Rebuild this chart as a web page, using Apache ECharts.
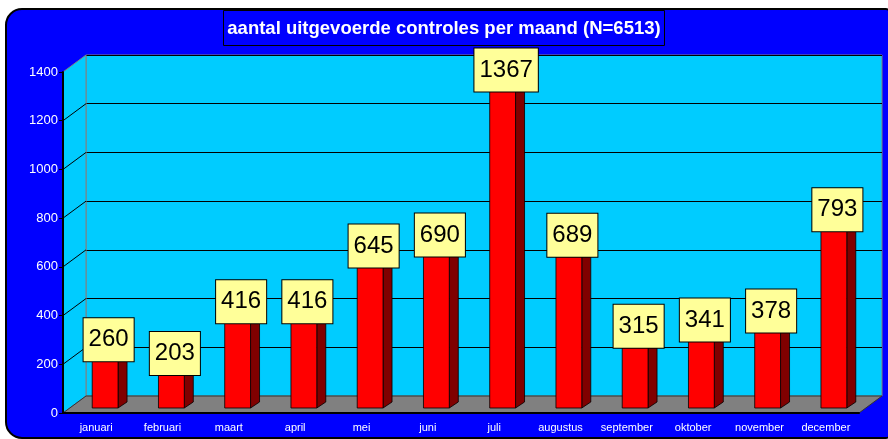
<!DOCTYPE html>
<html>
<head>
<meta charset="utf-8">
<script src="https://cdn.jsdelivr.net/npm/echarts@6/dist/echarts.min.js"></script>
<style>
  html, body { margin: 0; padding: 0; background: #fff; }
  #chart { width: 888px; height: 439px; }
</style>
</head>
<body>
<div id="chart"></div>
<script>
const months = ['januari', 'februari', 'maart', 'april', 'mei', 'juni', 'juli',
  'augustus', 'september', 'oktober', 'november', 'december']
const counts = [260, 203, 416, 416, 645, 690, 1367, 689, 315, 341, 378, 793]
const yMax = 1400
const yStep = 200

// 3D box geometry (front plane, back wall, bar plane)
const front = { left: 63, right: 859, top: 72, bottom: 413 }
const depth = { dx: 23, dy: 17 }
const back = {
  left: front.left + depth.dx, right: front.right + depth.dx,
  top: front.top - depth.dy, bottom: front.bottom - depth.dy
}
const W = 888, H = 439

const cyan = '#00CCFF'
const blue = '#0000FF'

// slanted gridlines on the left wall
const wallLines = []
for (let v = yStep; v < yMax; v += yStep) {
  const off = (front.bottom - front.top) * v / yMax
  wallLines.push({
    type: 'line', z: 1, silent: true,
    shape: { x1: front.left, y1: front.bottom - off, x2: back.left, y2: back.bottom - off },
    style: { stroke: '#000', lineWidth: 1 }
  })
}

const chart = echarts.init(document.getElementById('chart'))

chart.setOption({
  animation: false,
  textStyle: { fontFamily: 'Liberation Sans, Arial, sans-serif' },
  title: {
    text: 'aantal uitgevoerde controles per maand (N=6513)',
    left: 'center',
    top: 10,
    padding: [9, 4, 8, 4],
    backgroundColor: blue,
    borderColor: '#000',
    borderWidth: 1,
    textStyle: { color: '#fff', fontSize: 18.5, fontWeight: 'bold' }
  },
  graphic: [
    {
      type: 'rect', z: -10, silent: true,
      shape: { x: 6, y: 9, width: 884, height: 429, r: [16, 4, 4, 16] },
      style: { fill: blue, stroke: '#000', lineWidth: 2 }
    },
    {
      // left wall
      type: 'polygon', z: 1, silent: true,
      shape: { points: [[front.left, front.top], [back.left, back.top], [back.left, back.bottom], [front.left, front.bottom]] },
      style: { fill: cyan, stroke: '#808080', lineWidth: 1 }
    },
    {
      // floor
      type: 'polygon', z: 1, silent: true,
      shape: { points: [[front.left, front.bottom], [front.right, front.bottom], [back.right, back.bottom], [back.left, back.bottom]] },
      style: { fill: '#808080', stroke: '#333', lineWidth: 1 }
    },
    ...wallLines
  ],
  grid: [
    { // back wall
      left: back.left, right: W - back.right, top: back.top, bottom: H - back.bottom,
      show: true, backgroundColor: cyan, borderColor: '#808080', borderWidth: 1
    },
    { // front plane with axes
      left: front.left, right: W - front.right, top: front.top, bottom: H - front.bottom
    },
    { // plane the bars stand on
      left: 72, right: 21, top: 67, bottom: 31
    }
  ],
  xAxis: [
    { gridIndex: 0, type: 'category', data: months, show: false },
    {
      gridIndex: 1, type: 'category', data: months, z: 5,
      axisLine: { lineStyle: { color: '#000', width: 2 } },
      axisTick: { length: 5, lineStyle: { color: '#000' } },
      axisLabel: { color: '#fff', fontSize: 11, margin: 9, interval: 0 }
    },
    { gridIndex: 2, type: 'category', data: months, show: false }
  ],
  yAxis: [
    {
      gridIndex: 0, min: 0, max: yMax, interval: yStep,
      axisLine: { show: false }, axisTick: { show: false }, axisLabel: { show: false },
      splitLine: { lineStyle: { color: '#000', width: 1 } }
    },
    {
      gridIndex: 1, min: 0, max: yMax, interval: yStep, z: 5,
      axisLine: { show: true, lineStyle: { color: '#000', width: 2 } },
      axisTick: { show: true, length: 4, lineStyle: { color: '#000' } },
      axisLabel: { color: '#fff', fontSize: 13, margin: 5, formatter: v => String(v) },
      splitLine: { show: false }
    },
    { gridIndex: 2, min: 0, max: yMax, show: false, splitLine: { show: false } }
  ],
  series: [{
    type: 'custom',
    xAxisIndex: 2,
    yAxisIndex: 2,
    z: 3,
    data: counts,
    renderItem: function (params, api) {
      const i = api.value(0)
      const v = api.value(1)
      const base = api.coord([i, 0])
      const top = api.coord([i, v])
      const w = api.size([1, 0])[0] * 0.39
      const sx = 9, sy = 6
      const x = base[0] - w / 2
      const yb = base[1], yt = top[1]
      const edge = { stroke: '#000', lineWidth: 0.8 }
      return {
        type: 'group',
        children: [
          { type: 'polygon', shape: { points: [[x + w, yt], [x + w + sx, yt - sy], [x + w + sx, yb - sy], [x + w, yb]] },
            style: Object.assign({ fill: '#800000' }, edge) },
          { type: 'polygon', shape: { points: [[x, yt], [x + sx, yt - sy], [x + w + sx, yt - sy], [x + w, yt]] },
            style: Object.assign({ fill: '#FF0000' }, edge) },
          { type: 'rect', shape: { x: x, y: yt, width: w, height: yb - yt },
            style: Object.assign({ fill: '#FF0000' }, edge) },
          { type: 'text', x: base[0] + 3.5, y: yt - 5, z2: 10,
            style: {
              text: String(v), fill: '#000', fontSize: 24,
              fontFamily: 'Liberation Sans, Arial, sans-serif',
              align: 'center', verticalAlign: 'middle',
              backgroundColor: '#FFFF99', borderColor: '#000', borderWidth: 1,
              padding: [10, 5, 9, 5]
            } }
        ]
      }
    },
    encode: { x: 0, y: 1 }
  }]
})
</script>
</body>
</html>
